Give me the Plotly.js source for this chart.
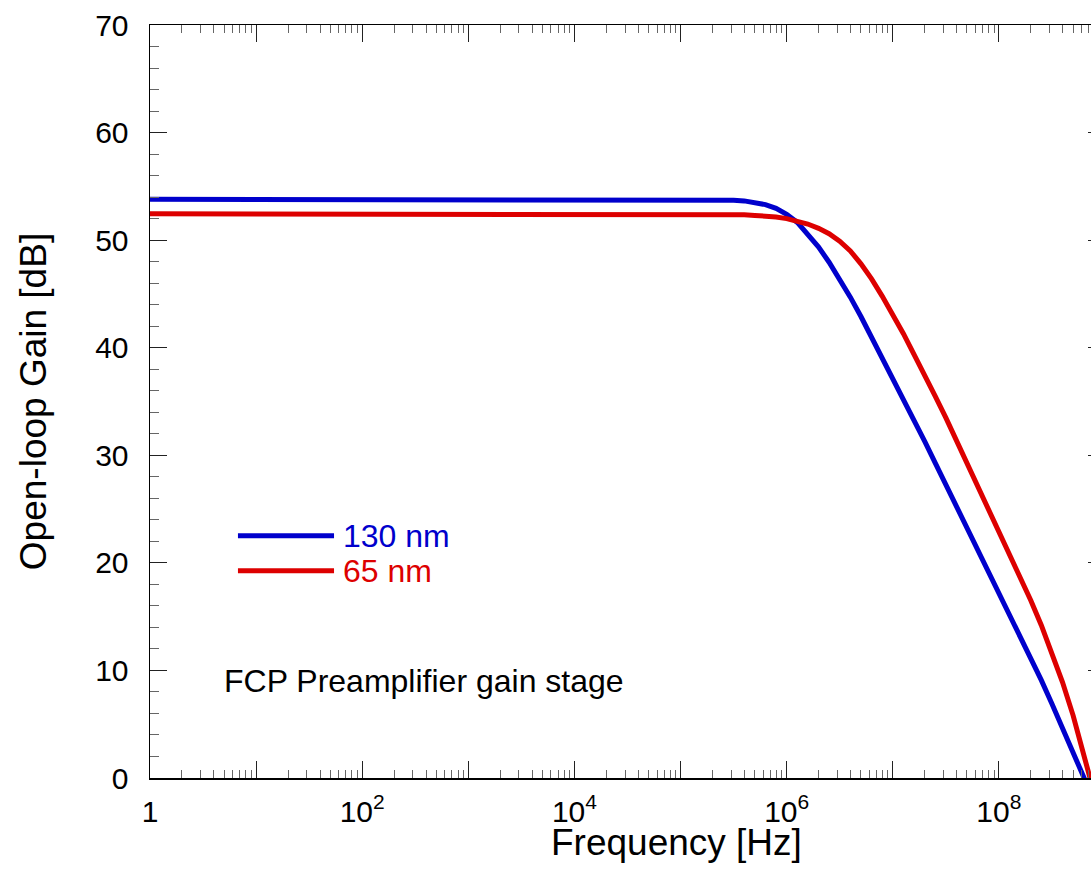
<!DOCTYPE html>
<html>
<head>
<meta charset="utf-8">
<script src="https://cdn.plot.ly/plotly-3.0.1.min.js"></script>
<style>
html, body { margin: 0; padding: 0; overflow: hidden; background: #fff; }
#chart { width: 1115px; height: 874px; }
</style>
</head>
<body>
<div id="chart"></div>
<script>
// Frequency grid [Hz] (10 points per decade near the roll-off)
const freq = [1, 10, 100, 1e3, 1e4, 1e5, 2e5, 3.16e5, 3.98e5, 5.01e5, 6.31e5, 7.94e5,
              1e6, 1.26e6, 1.58e6, 2e6, 2.51e6, 3.16e6, 3.98e6, 5.01e6, 6.31e6, 7.94e6,
              1e7, 1.26e7, 1.58e7, 2e7, 2.51e7, 3.16e7, 3.98e7, 5.01e7, 6.31e7, 7.94e7,
              1e8, 1.26e8, 1.58e8, 2e8, 2.51e8, 3.16e8, 3.98e8, 5.01e8, 6.31e8, 7.94e8];
// Open-loop gain [dB], 130 nm process
const gain130 = [53.8, 53.8, 53.8, 53.8, 53.8, 53.78, 53.74, 53.7, 53.65, 53.5, 53.3, 52.95,
                 52.4, 51.65, 50.55, 49.35, 47.95, 46.4, 44.7, 42.9, 41.0, 39.0,
                 37.0, 35.1, 33.2, 31.3, 29.3, 27.3, 25.3, 23.3, 21.3, 19.3,
                 17.3, 15.3, 13.3, 11.2, 9.1, 6.9, 4.7, 2.5, 0.2, -2.2];
// Open-loop gain [dB], 65 nm process
const gain65 = [52.45, 52.45, 52.45, 52.45, 52.45, 52.44, 52.42, 52.38, 52.35, 52.3, 52.25, 52.15,
                52.0, 51.8, 51.5, 51.1, 50.6, 49.9, 49.0, 47.8, 46.4, 44.8,
                43.1, 41.3, 39.4, 37.5, 35.5, 33.5, 31.4, 29.3, 27.2, 25.1,
                23.0, 20.9, 18.7, 16.5, 14.2, 11.7, 8.9, 5.8, 2.3, -1.5];

const seriesNames = ['130 nm', '65 nm'];
const seriesColors = ['#0000cc', '#dd0000'];
const noteText = 'FCP Preamplifier gain stage';
const xTitle = 'Frequency [Hz]';
const yTitle = 'Open-loop Gain [dB]';

// Axis ticks
const decades = [1, 10, 100, 1e3, 1e4, 1e5, 1e6, 1e7, 1e8, 1e9];
const decadeLabels = ['1', '', '10<sup>2</sup>', '', '10<sup>4</sup>', '', '10<sup>6</sup>', '', '10<sup>8</sup>', ''];
const minorVals = [];
for (let d = 0; d < 9; d++) {
  for (let m = 2; m <= 9; m++) minorVals.push(m * Math.pow(10, d));
}

const font = 'Liberation Sans, Arial, Helvetica, sans-serif';

const traces = [
  { x: freq, y: gain130, type: 'scatter', mode: 'lines', name: seriesNames[0],
    line: { color: seriesColors[0], width: 5 } },
  { x: freq, y: gain65, type: 'scatter', mode: 'lines', name: seriesNames[1],
    line: { color: seriesColors[1], width: 5 } }
];

const legX0 = 0.0921, legX1 = 0.1927, legTextX = 0.2005;
const legY = [0.3218, 0.2753];

const layout = {
  width: 1115, height: 874,
  margin: { l: 150, r: 10, t: 25, b: 96 },
  paper_bgcolor: '#fff', plot_bgcolor: '#fff',
  showlegend: false,
  font: { family: font, color: '#000', size: 30 },
  xaxis: {
    type: 'log', range: [0, 9],
    tickmode: 'array', tickvals: decades, ticktext: decadeLabels,
    ticks: 'inside', ticklen: 17, tickwidth: 1, tickcolor: '#222',
    ticklabelstandoff: 6,
    minor: { tickmode: 'array', tickvals: minorVals, ticks: 'inside', ticklen: 8, tickwidth: 1, tickcolor: '#666' },
    showline: true, linecolor: '#000', linewidth: 1.5, mirror: 'ticks',
    showgrid: false, zeroline: false,
    tickfont: { size: 30, family: font },
    automargin: false
  },
  yaxis: {
    range: [0, 70], dtick: 10, tick0: 0,
    ticks: 'inside', ticklen: 17, tickwidth: 1, tickcolor: '#222',
    ticklabelstandoff: 14,
    minor: { dtick: 2, ticks: 'inside', ticklen: 9, tickwidth: 1, tickcolor: '#666' },
    showline: true, linecolor: '#000', linewidth: 1.5, mirror: 'ticks',
    showgrid: false, zeroline: false,
    tickfont: { size: 30, family: font },
    title: { text: yTitle, font: { size: 37, family: font }, standoff: 37 },
    automargin: false
  },
  shapes: [
    { type: 'line', xref: 'paper', yref: 'paper', x0: legX0, x1: legX1, y0: legY[0], y1: legY[0],
      line: { color: seriesColors[0], width: 5 } },
    { type: 'line', xref: 'paper', yref: 'paper', x0: legX0, x1: legX1, y0: legY[1], y1: legY[1],
      line: { color: seriesColors[1], width: 5 } }
  ],
  annotations: [
    { xref: 'paper', yref: 'paper', x: legTextX, y: legY[0], xanchor: 'left', yanchor: 'middle',
      text: seriesNames[0], showarrow: false, font: { size: 32, color: seriesColors[0], family: font } },
    { xref: 'paper', yref: 'paper', x: legTextX, y: legY[1], xanchor: 'left', yanchor: 'middle',
      text: seriesNames[1], showarrow: false, font: { size: 32, color: seriesColors[1], family: font } },
    { xref: 'paper', yref: 'paper', x: 0.0754, y: 0.129, xanchor: 'left', yanchor: 'middle',
      text: noteText, showarrow: false, font: { size: 32, color: '#000', family: font } },
    { xref: 'paper', yref: 'paper', x: 0.5508, y: -0.085, xanchor: 'center', yanchor: 'middle',
      text: xTitle, showarrow: false, font: { size: 37, color: '#000', family: font } }
  ]
};

Plotly.newPlot('chart', traces, layout, { displayModeBar: false, staticPlot: true });
</script>
</body>
</html>
